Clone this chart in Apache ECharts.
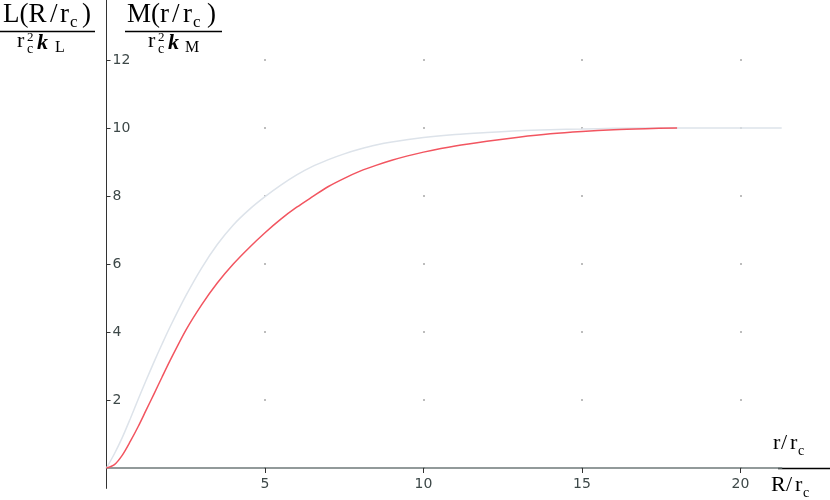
<!DOCTYPE html>
<html>
<head>
<meta charset="utf-8">
<script src="https://cdn.jsdelivr.net/npm/echarts@6/dist/echarts.min.js"></script>
<style>
  html, body { margin: 0; padding: 0; background: #fff; }
  #chart { width: 830px; height: 500px; }
</style>
</head>
<body>
<div id="chart"></div>
<script>
// tick values
const xTicks = [5, 10, 15, 20]
const yTicks = [2, 4, 6, 8, 10, 12]

// L(R/rc) curve (light grey)
const lX = [0, 0.25, 0.5, 0.75, 1, 1.25, 1.5, 1.75, 2, 2.5, 3, 3.5, 4, 4.5, 5, 5.5, 6, 6.5, 7, 7.5, 8, 8.5, 9, 10, 11, 12, 13, 14, 15, 16, 17, 18, 19, 20, 21.3]
const lY = [0, 0.42, 0.9, 1.45, 2.02, 2.58, 3.12, 3.64, 4.14, 5.06, 5.88, 6.58, 7.15, 7.6, 7.98, 8.32, 8.62, 8.87, 9.07, 9.24, 9.38, 9.5, 9.59, 9.72, 9.81, 9.87, 9.92, 9.95, 9.97, 9.99, 10, 10, 10, 10, 10]

// M(r/rc) curve (red)
const mX = [0, 0.25, 0.5, 0.75, 1, 1.25, 1.5, 1.75, 2, 2.5, 3, 3.5, 4, 4.5, 5, 5.5, 6, 6.5, 7, 7.5, 8, 8.5, 9, 9.5, 10, 11, 12, 13, 14, 15, 16, 17, 18]
const mY = [0, 0.1, 0.38, 0.78, 1.22, 1.7, 2.18, 2.67, 3.15, 4.05, 4.8, 5.45, 6.0, 6.48, 6.92, 7.32, 7.67, 7.98, 8.28, 8.52, 8.73, 8.9, 9.05, 9.18, 9.29, 9.47, 9.61, 9.73, 9.83, 9.9, 9.95, 9.98, 10]

const SERIF = '"Liberation Serif", "DejaVu Serif", serif'

// one piece of text, y given as baseline
function glyph(text, x, base, size, extra) {
  return {
    type: 'text',
    x: x,
    y: base - 0.3 * size,
    style: Object.assign({
      text: text,
      fontFamily: SERIF,
      fontSize: size,
      fill: '#000',
      verticalAlign: 'middle',
    }, extra || {}),
  }
}

function bar(x1, x2, y) {
  return { type: 'line', shape: { x1: x1, y1: y, x2: x2, y2: y }, style: { stroke: '#000', lineWidth: 1.5 } }
}

const kStyle = { fontStyle: 'italic', fontWeight: 'bold' }

const labels = [
  // L(R/rc) / rc^2 kL
  glyph('L(R', 3, 23, 27),
  glyph('/', 50, 23, 27),
  glyph('r', 60, 23, 27),
  glyph('c', 70, 28, 17),
  glyph(')', 82, 23, 27),
  bar(0, 95, 31.5),
  glyph('r', 17, 48, 22),
  glyph('2', 27, 41, 13),
  glyph('c', 27, 54, 14),
  glyph('k', 37, 50, 22, kStyle),
  glyph('L', 55, 53, 16),

  // M(r/rc) / rc^2 kM
  glyph('M(r', 127, 23, 27),
  glyph('/', 172, 23, 27),
  glyph('r', 183, 23, 27),
  glyph('c', 193, 28, 17),
  glyph(')', 207, 23, 27),
  bar(125, 222, 31.5),
  glyph('r', 148, 48, 22),
  glyph('2', 158, 41, 13),
  glyph('c', 158, 54, 14),
  glyph('k', 168, 50, 22, kStyle),
  glyph('M', 185, 53, 16),

  // r/rc over R/rc
  glyph('r', 773, 450, 22),
  glyph('/', 781, 450, 22),
  glyph('r', 790, 450, 22),
  glyph('c', 798, 456, 14),
  bar(778, 830, 468.5),
  glyph('R', 771, 492, 22),
  glyph('/', 786, 492, 22),
  glyph('r', 795, 492, 22),
  glyph('c', 803, 498, 14),
]

const chart = echarts.init(document.getElementById('chart'), null, { renderer: 'canvas' })

chart.setOption({
  animation: false,
  backgroundColor: '#fff',
  grid: { left: 106.5, right: 48.3, top: -8, bottom: 11.6, containLabel: false, outerBoundsMode: 'none' },
  xAxis: {
    type: 'value',
    min: 0,
    max: 21.3,
    interval: 5,
    axisLine: { onZero: true, lineStyle: { color: '#6f7a7a', width: 1.5 } },
    axisTick: { show: true, length: 5, customValues: xTicks, lineStyle: { color: '#333', width: 1 } },
    axisLabel: {
      customValues: xTicks,
      margin: -11,
      color: '#3d4848',
      fontFamily: '"DejaVu Sans", sans-serif',
      fontSize: 14,
    },
    splitLine: {
      show: true,
      showMinLine: true,
      showMaxLine: true,
      lineStyle: { color: '#8a8a8a', width: 1.5, type: [1.5, 66.5], dashOffset: 0.75 },
    },
  },
  yAxis: {
    type: 'value',
    min: -0.6,
    max: 14,
    axisLine: { onZero: true, lineStyle: { color: '#333', width: 1 } },
    axisTick: { show: true, inside: true, length: 4, customValues: yTicks, lineStyle: { color: '#333' } },
    axisLabel: {
      customValues: yTicks,
      inside: true,
      margin: 6,
      color: '#3d4848',
      fontFamily: '"DejaVu Sans", sans-serif',
      fontSize: 14,
    },
    splitLine: { show: false },
  },
  series: [
    {
      name: 'L',
      type: 'line',
      data: lX.map((x, i) => [x, lY[i]]),
      smooth: 0.3,
      showSymbol: false,
      lineStyle: { color: '#dde3ea', width: 1.5 },
    },
    {
      name: 'M',
      type: 'line',
      data: mX.map((x, i) => [x, mY[i]]),
      smooth: 0.3,
      showSymbol: false,
      lineStyle: { color: '#f25560', width: 1.5 },
    },
  ],
  graphic: labels,
})
</script>
</body>
</html>
